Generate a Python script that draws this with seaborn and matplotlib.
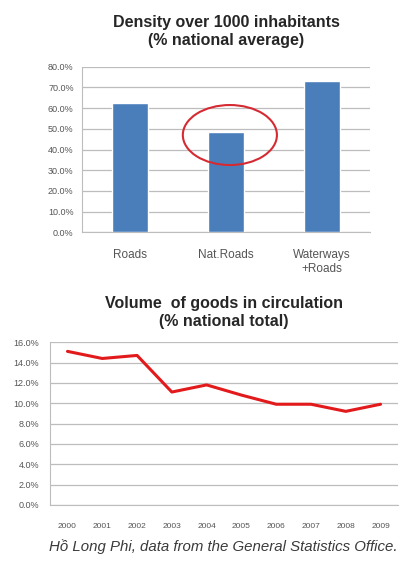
import numpy as np
import pandas as pd
import seaborn as sns
import matplotlib.pyplot as plt
from matplotlib.patches import Ellipse
from matplotlib.ticker import FuncFormatter

# Data
density_cats = ["Roads", "Nat.Roads", "Waterways\n+Roads"]
density_vals = [62.5, 48.5, 73.2]

years = ["2000", "2001", "2002", "2003", "2004", "2005", "2006", "2007", "2008", "2009"]
goods_vals = [15.1, 14.4, 14.7, 11.1, 11.8, 10.8, 9.9, 9.9, 9.2, 9.9]

sns.set_style("white")
plt.rcParams['font.family'] = ['Liberation Sans', 'DejaVu Sans']

fig = plt.figure(figsize=(4.04, 5.61), dpi=100)
ax1 = fig.add_axes([0.203, 0.586, 0.713, 0.295])
ax2 = fig.add_axes([0.124, 0.100, 0.861, 0.290])

grid_col = "#bdbdbd"
tick_col = "#555555"
pct = FuncFormatter(lambda v, p: "%.1f%%" % v)

# Top: bar chart
df1 = pd.DataFrame({"cat": density_cats, "val": density_vals})
sns.barplot(data=df1, x="cat", y="val", color="#4a7ebb", saturation=1,
            width=0.38, ax=ax1, zorder=3)
ax1.set_xlim(-0.5, 2.5)
ax1.set_ylim(0, 80)
ax1.set_yticks(np.arange(0, 81, 10))
ax1.yaxis.set_major_formatter(pct)
ax1.grid(axis="y", color=grid_col, lw=0.9, zorder=0)
ax1.set_axisbelow(True)
for s in ["top", "right"]:
    ax1.spines[s].set_visible(False)
for s in ["left", "bottom"]:
    ax1.spines[s].set_color(grid_col)
ax1.tick_params(axis="y", labelsize=6.5, colors=tick_col, length=0, pad=6)
ax1.tick_params(axis="x", labelsize=8.5, colors=tick_col, length=0, pad=12)
ax1.set_xlabel("")
ax1.set_ylabel("")
ax1.set_title("Density over 1000 inhabitants\n(% national average)",
              fontsize=11.5, fontweight="bold", pad=16, linespacing=1.2)
ax1.add_patch(Ellipse((1.04, 47), 0.98, 29, fill=False, ec="#d62a32", lw=1.5, zorder=4))

# Bottom: line chart
df2 = pd.DataFrame({"year": years, "val": goods_vals})
sns.lineplot(data=df2, x="year", y="val", color="#e31a1c", lw=2.2, ax=ax2,
             sort=False, zorder=3)
ax2.set_xlim(-0.5, 9.5)
ax2.set_ylim(0, 16)
ax2.set_yticks(np.arange(0, 17, 2))
ax2.yaxis.set_major_formatter(pct)
ax2.set_xticks(range(len(years)))
ax2.set_xticks(np.arange(-0.5, 10, 1), minor=True)
ax2.grid(axis="y", color=grid_col, lw=0.9, zorder=0)
ax2.set_axisbelow(True)
for s in ["top", "right"]:
    ax2.spines[s].set_visible(False)
for s in ["left", "bottom"]:
    ax2.spines[s].set_color(grid_col)
ax2.tick_params(axis="y", labelsize=6.5, colors=tick_col, length=0, pad=8)
ax2.tick_params(axis="x", which="major", labelsize=6, colors=tick_col, length=0, pad=13)
ax2.tick_params(axis="x", which="minor", length=3, color=grid_col, direction="out")
ax2.set_xlabel("")
ax2.set_ylabel("")
ax2.set_title("Volume  of goods in circulation\n(% national total)",
              fontsize=11.5, fontweight="bold", pad=12, linespacing=1.2)

fig.text(0.985, 0.025, "Hồ Long Phi, data from the General Statistics Office.",
         ha="right", va="center", fontsize=10.8, style="italic", color="#3a3a3a")

fig.savefig("out.png", dpi=100)
